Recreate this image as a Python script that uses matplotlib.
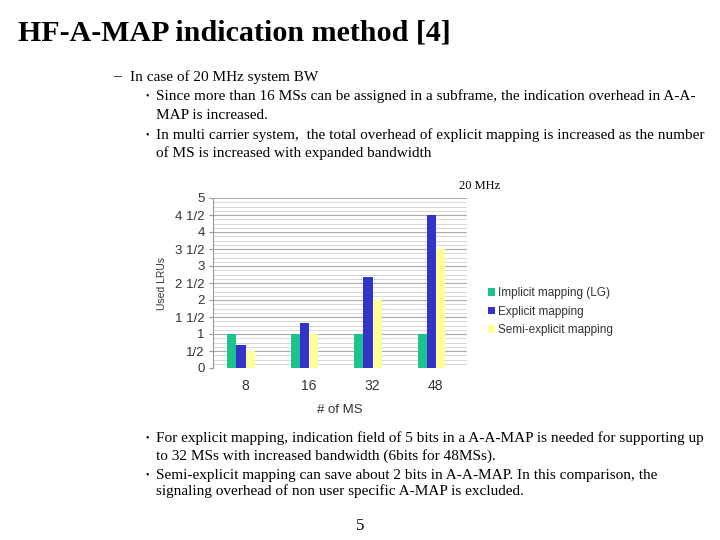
import numpy as np
import matplotlib
matplotlib.use("Agg")
from matplotlib import pyplot as plt
from matplotlib.ticker import MultipleLocator, FixedLocator

# chart data
ms_counts = ["8", "16", "32", "48"]
implicit_lg = [1, 1, 1, 1]
explicit = [0.67, 1.33, 2.67, 4.5]
semi_explicit = [0.5, 1, 2, 3.5]
series_names = ["Implicit mapping (LG)", "Explicit mapping", "Semi-explicit mapping"]
series_colors = ["#1dc38f", "#3333cc", "#ffff99"]
ytick_vals = [0, 0.5, 1, 1.5, 2, 2.5, 3, 3.5, 4, 4.5, 5]
ytick_text = ["0", "1/2", "1", "1 1/2", "2", "2 1/2", "3", "3 1/2", "4", "4 1/2", "5"]

fig = plt.figure(figsize=(7.2, 5.4), dpi=100)
fig.patch.set_facecolor("white")

serif = ["Liberation Serif", "DejaVu Serif"]
sans = ["Liberation Sans", "DejaVu Sans"]

# slide text
fig.text(18/720, 1-33/540, "HF-A-MAP indication method [4]", family=serif,
         fontsize=21.6, weight="bold", va="center", ha="left")
fig.text(113/720, 1-77/540, "\u2013", family=serif, fontsize=11, va="center")
fig.text(130/720, 1-77/540, "In case of 20 MHz system BW", family=serif, fontsize=11, va="center")

top_lines = [
    (96, "\u2022", "Since more than 16 MSs can be assigned in a subframe, the indication overhead in A-A-"),
    (115, "", "MAP is increased."),
    (135, "\u2022", "In multi carrier system,  the total overhead of explicit mapping is increased as the number"),
    (153, "", "of MS is increased with expanded bandwidth"),
]
bottom_lines = [
    (438, "\u2022", "For explicit mapping, indication field of 5 bits in a A-A-MAP is needed for supporting up"),
    (456, "", "to 32 MSs with increased bandwidth (6bits for 48MSs)."),
    (475, "\u2022", "Semi-explicit mapping can save about 2 bits in A-A-MAP. In this comparison, the"),
    (491, "", "signaling overhead of non user specific A-MAP is excluded."),
]
for y, b, t in top_lines + bottom_lines:
    if b:
        fig.text(146/720, 1-y/540, b, family=serif, fontsize=7, va="center")
    fig.text(156/720, 1-y/540, t, family=serif, fontsize=10.95, va="center")

fig.text(360/720, 1-526/540, "5", family=serif, fontsize=12, va="center", ha="center")
fig.text(480/720, 1-186/540, "20 MHz", family=serif, fontsize=9, va="center", ha="center")

# chart
ax = fig.add_axes([213/720, 1-368/540, 254/720, 170/540])
x = np.arange(len(ms_counts))
w = 0.145
shift = -0.06
for i, (vals, name, col) in enumerate(zip([implicit_lg, explicit, semi_explicit], series_names, series_colors)):
    ax.bar(x + shift + (i - 1)*w, vals, w, color=col, label=name, zorder=3)

ax.set_xlim(-0.5, 3.5)
ax.set_ylim(0, 5)
ax.yaxis.set_major_locator(FixedLocator(ytick_vals))
ax.set_yticklabels(ytick_text, family=sans, fontsize=9.5, color="#333333")
ax.yaxis.set_minor_locator(MultipleLocator(0.125))
ax.set_xticks(x)
ax.set_xticklabels(ms_counts, family=sans, fontsize=10, color="#333333")
ax.tick_params(axis="x", length=0, pad=8)
ax.tick_params(axis="y", which="major", length=3, color="#999999", pad=3)
ax.tick_params(axis="y", which="minor", length=0)
ax.grid(axis="y", which="major", color="#aaaaaa", lw=0.8, zorder=0)
ax.grid(axis="y", which="minor", color="#d0d0d0", lw=0.6, zorder=0)
for s in ["top", "right", "bottom"]:
    ax.spines[s].set_visible(False)
ax.spines["left"].set_color("#999999")
ax.set_ylabel("Used LRUs", family=sans, fontsize=7.5, color="#333333", labelpad=6)
ax.set_xlabel("# of MS", family=sans, fontsize=9.5, color="#333333", labelpad=8)

ax.legend(loc="center left", bbox_to_anchor=(1.04, 0.33), frameon=False,
          prop={"family": sans, "size": 8.5}, handlelength=0.6, handleheight=0.6,
          handletextpad=0.3, labelspacing=0.55, labelcolor="#333333")

fig.savefig("out.png", dpi=100, facecolor="white")
